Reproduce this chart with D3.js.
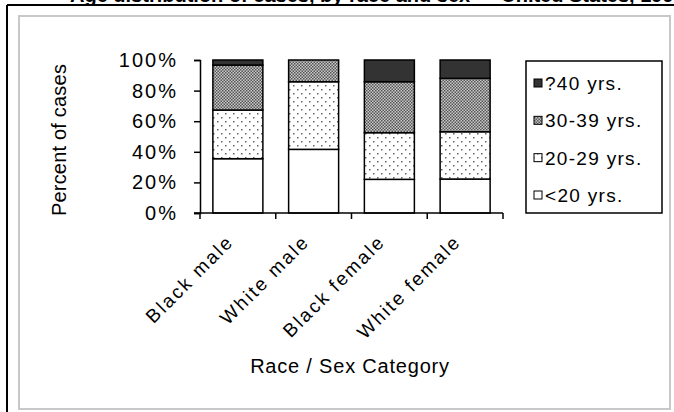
<!DOCTYPE html>
<html><head><meta charset="utf-8">
<script src="https://cdn.jsdelivr.net/npm/d3@7"></script>
<style>body{margin:0;background:#fff}svg{display:block}text{font-family:"Liberation Sans",Arial,sans-serif;fill:#000}</style>
</head><body>
<script>
const categories = ["Black male", "White male", "Black female", "White female"];
const ageGroups = ["<20 yrs.", "20-29 yrs.", "30-39 yrs.", "?40 yrs."];
const under20 = [35.5, 41.6, 22.0, 22.2];
const age20to29 = [31.8, 44.2, 30.5, 30.9];
const age30to39 = [29.4, 14.2, 33.3, 34.9];
const age40plus = [3.3, 0, 14.2, 12.0];
const yTicks = [0, 20, 40, 60, 80, 100];
const yTitle = "Percent of cases";
const xTitle = "Race / Sex Category";
const chartTitle = "Age distribution of cases, by race and sex \u2014 United States, 1996";

const W = 674, H = 412;
const svg = d3.select("body").append("svg").attr("width", W).attr("height", H);
const defs = svg.append("defs");
const p1 = defs.append("pattern").attr("id","dots").attr("patternUnits","userSpaceOnUse").attr("width",8).attr("height",8);
p1.append("rect").attr("width",8).attr("height",8).attr("fill","#fff");
p1.append("rect").attr("x",1).attr("y",1).attr("width",1.5).attr("height",1.5).attr("fill","#666");
p1.append("rect").attr("x",5).attr("y",5).attr("width",1.5).attr("height",1.5).attr("fill","#666");
const p2 = defs.append("pattern").attr("id","checker").attr("patternUnits","userSpaceOnUse").attr("width",3).attr("height",3);
p2.append("rect").attr("width",3).attr("height",3).attr("fill","#c8c8c8");
p2.append("rect").attr("width",1.5).attr("height",1.5).attr("fill","#555");
p2.append("rect").attr("x",1.5).attr("y",1.5).attr("width",1.5).attr("height",1.5).attr("fill","#555");
const fills = ["#ffffff", "url(#dots)", "url(#checker)", "#333333"];

// title, clipped at the top edge as in the reference
svg.append("text").attr("x",70).attr("y",2).attr("font-size",20).attr("font-weight","bold").text(chartTitle);
// frames
svg.append("line").attr("x1",7).attr("x2",W).attr("y1",5).attr("y2",5).attr("stroke","#000").attr("stroke-width",2);
svg.append("line").attr("x1",7).attr("x2",7).attr("y1",5).attr("y2",H).attr("stroke","#000").attr("stroke-width",2);
svg.append("rect").attr("x",19).attr("y",16).attr("width",651).attr("height",393).attr("fill","none").attr("stroke","#c8c8c8").attr("stroke-width",2);

const x = d3.scaleBand().domain(categories).range([200, 503]).paddingInner(0.34).paddingOuter(0.17);
const y = d3.scaleLinear().domain([0, 100]).range([213, 60]);

const series = [under20, age20to29, age30to39, age40plus];
const table = categories.map((c, i) => {
  const o = {cat: c};
  ageGroups.forEach((g, k) => o[g] = series[k][i]);
  return o;
});
const stacked = d3.stack().keys(ageGroups)(table);

const g = svg.append("g");
stacked.forEach((s, k) => {
  g.selectAll(null).data(s.filter(d => d[1] - d[0] > 0)).enter().append("rect")
    .attr("x", d => x(d.data.cat)).attr("width", x.bandwidth())
    .attr("y", d => y(d[1])).attr("height", d => y(d[0]) - y(d[1]))
    .attr("fill", fills[k]).attr("stroke", "#000").attr("stroke-width", 1.5);
});

// y axis
const yAxis = svg.append("g").attr("transform","translate(200,0)")
  .call(d3.axisLeft(y).tickValues(yTicks).tickSize(6).tickFormat(d => d + "%"));
yAxis.select(".domain").attr("stroke","#000").attr("stroke-width",1.5);
yAxis.selectAll(".tick line").attr("stroke","#000").attr("stroke-width",1.5);
yAxis.selectAll(".tick text").attr("font-size",20).attr("letter-spacing",2).attr("x",-22).attr("font-family","Liberation Sans, Arial, sans-serif").attr("fill","#000");

// x axis
const step = (503 - 200) / categories.length;
const xAxisG = svg.append("g");
xAxisG.append("line").attr("x1",194).attr("x2",503).attr("y1",213).attr("y2",213).attr("stroke","#000").attr("stroke-width",1.5);
d3.range(categories.length + 1).forEach(i => {
  const xx = 200 + i * step;
  xAxisG.append("line").attr("x1",xx).attr("x2",xx).attr("y1",213).attr("y2",219).attr("stroke","#000").attr("stroke-width",1.5);
});
categories.forEach(c => {
  const cx = x(c) + x.bandwidth()/2 - 3;
  svg.append("text").attr("transform",`translate(${cx},${243}) rotate(-45)`)
    .attr("text-anchor","end").attr("font-size",19).attr("letter-spacing",2.2).text(c);
});

svg.append("text").attr("x",350).attr("y",373).attr("text-anchor","middle").attr("font-size",20).attr("letter-spacing",0.8).text(xTitle);
svg.append("text").attr("transform","translate(66,140) rotate(-90)").attr("text-anchor","middle").attr("font-size",20).attr("letter-spacing",0.2).text(yTitle);

// legend
const lg = svg.append("g");
lg.append("rect").attr("x",526).attr("y",61).attr("width",136).attr("height",152).attr("fill","#fff").attr("stroke","#000").attr("stroke-width",1.5);
const legendOrder = [3,2,1,0];
const ly = d3.scalePoint().domain(legendOrder).range([83, 195]);
legendOrder.forEach(k => {
  lg.append("rect").attr("x",534).attr("y",ly(k)-4).attr("width",8).attr("height",8).attr("fill",fills[k]).attr("stroke","#000").attr("stroke-width",1);
  lg.append("text").attr("x",545).attr("y",ly(k)+7).attr("font-size",19).attr("letter-spacing",1.3).text(ageGroups[k]);
});
</script>
</body></html>
